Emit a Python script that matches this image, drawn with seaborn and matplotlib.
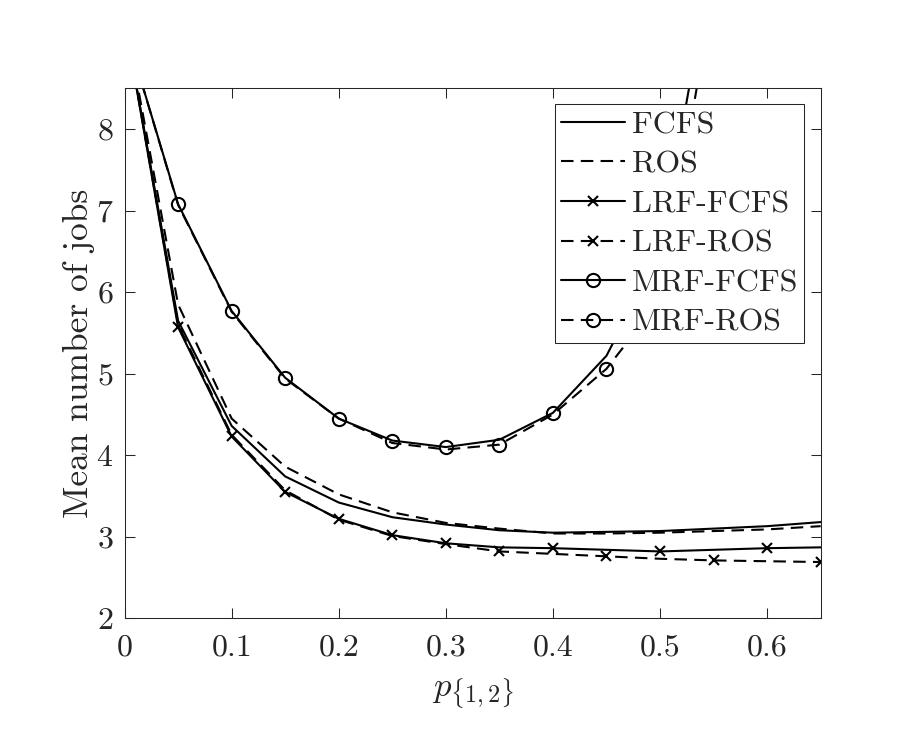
import numpy as np
import pandas as pd
import matplotlib
matplotlib.use('Agg')
import matplotlib.pyplot as plt
import seaborn as sns

# valores
p = [0, 0.05, 0.1, 0.15, 0.2, 0.25, 0.3, 0.35, 0.4, 0.45, 0.5, 0.55, 0.6, 0.65]
fcfs = [9.35, 5.65, 4.36, 3.74, 3.42, 3.24, 3.15, 3.08, 3.05, 3.06, 3.07, 3.10, 3.13, 3.18]
ros = [9.40, 5.85, 4.45, 3.86, 3.52, 3.30, 3.17, 3.10, 3.04, 3.04, 3.05, 3.07, 3.09, 3.13]
lrf_fcfs = [9.35, 5.57, 4.23, 3.55, 3.22, 3.02, 2.92, 2.87, 2.86, 2.84, 2.82, 2.84, 2.86, 2.87]
lrf_ros = [9.35, 5.60, 4.25, 3.57, 3.21, 3.01, 2.91, 2.82, 2.79, 2.76, 2.73, 2.71, 2.70, 2.69]

p_mrf = [0, 0.05, 0.1, 0.15, 0.2, 0.25, 0.3, 0.35, 0.4, 0.45, 0.5, 0.55]
mrf_fcfs = [9.27, 7.08, 5.77, 4.95, 4.45, 4.18, 4.10, 4.19, 4.52, 5.22, 6.50, 10.2]
mrf_ros = [9.27, 7.07, 5.76, 4.94, 4.45, 4.15, 4.07, 4.13, 4.50, 5.06, 5.90, 9.70]

sns.set_style('ticks')
plt.rcParams['font.family'] = ['cmr10', 'DejaVu Serif']
plt.rcParams['mathtext.fontset'] = 'cm'
plt.rcParams['axes.formatter.use_mathtext'] = True

fig = plt.figure(figsize=(9.13, 7.51), dpi=100)
ax = fig.add_axes([0.1364, 0.1767, 0.7625, 0.7057])

guiones = (0, (6, 3.5))
series = [
    ('FCFS', p, fcfs, '-', None, None),
    ('ROS', p, ros, guiones, None, None),
    ('LRF-FCFS', p, lrf_fcfs, '-', 'x', [1, 2, 3, 4, 5, 6, 8, 10, 12]),
    ('LRF-ROS', p, lrf_ros, guiones, 'x', [7, 9, 11, 13]),
    ('MRF-FCFS', p_mrf, mrf_fcfs, '-', 'o', [1, 2, 3, 4, 5, 6, 8]),
    ('MRF-ROS', p_mrf, mrf_ros, guiones, 'o', [7, 9]),
]

for nombre, xs, ys, estilo, marca, indices in series:
    df = pd.DataFrame({'p': xs, 'n': ys})
    kw = dict(color='black', linewidth=1.5, linestyle=estilo, label=nombre, ax=ax)
    if marca is not None:
        kw.update(marker=marca, markevery=indices, markersize=9.5 if marca == 'o' else 7,
                  markerfacecolor='none', markeredgecolor='black', markeredgewidth=1.5)
    sns.lineplot(data=df, x='p', y='n', sort=False, **kw)

ax.set_xlim(0, 0.65)
ax.set_ylim(2, 8.5)
ax.set_xticks([0, 0.1, 0.2, 0.3, 0.4, 0.5, 0.6])
ax.set_xticklabels(['0', '0.1', '0.2', '0.3', '0.4', '0.5', '0.6'])
ax.set_yticks([2, 3, 4, 5, 6, 7, 8])
ax.tick_params(direction='in', length=7, width=0.75, top=True, right=True,
               labelsize=23, colors='#262626')
ax.tick_params(axis='x', pad=11)
ax.tick_params(axis='y', pad=8)
for s in ax.spines.values():
    s.set_linewidth(0.75)
    s.set_color('#262626')
    s.set_visible(True)

ax.set_xlabel(r'$p_{\{1,2\}}$', fontsize=25, color='#262626')
ax.xaxis.set_label_coords(0.5, -0.11)
ax.set_ylabel('Mean number of jobs', fontsize=25.5, color='#262626')
ax.yaxis.set_label_coords(-0.042, 0.5)

leg = ax.legend(loc='upper right', bbox_to_anchor=(0.9765, 0.9698), borderaxespad=0,
                fontsize=23, frameon=True, fancybox=False, edgecolor='#262626',
                framealpha=1, handlelength=2.0, handletextpad=0.2, labelspacing=0.35,
                borderpad=0.2)
leg.get_frame().set_linewidth(0.75)

fig.savefig('out.png', dpi=100, facecolor='white')
